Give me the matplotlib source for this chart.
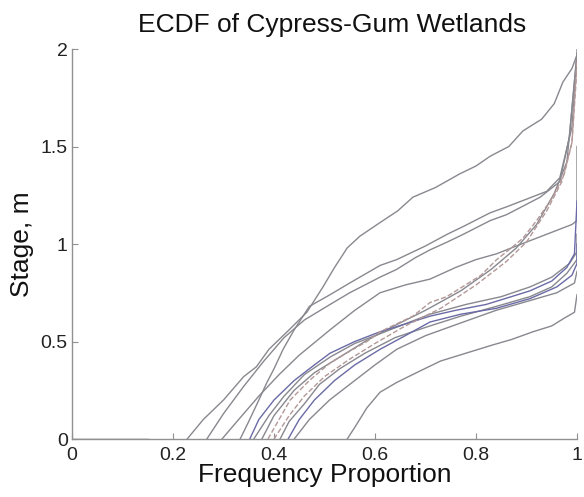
import matplotlib
matplotlib.use('Agg')
import matplotlib.pyplot as plt

# ECDF curves: x = frequency proportion, y = stage (m)
flat_x = [0.0, 0.15]
flat_y = [0.0, 0.0]

t_x = [0.228, 0.26, 0.30, 0.34, 0.365, 0.39, 0.43, 0.465, 0.497, 0.52, 0.545, 0.57, 0.61, 0.645, 0.675, 0.72, 0.768, 0.80, 0.828, 0.865, 0.893, 0.93, 0.955, 0.972, 0.99, 1.0, 1.0]
t_y = [0.0, 0.1, 0.2, 0.32, 0.37, 0.46, 0.56, 0.65, 0.78, 0.88, 0.98, 1.04, 1.11, 1.17, 1.24, 1.29, 1.36, 1.40, 1.45, 1.50, 1.58, 1.64, 1.72, 1.83, 1.90, 1.97, 2.0]

u1_x = [0.267, 0.30, 0.34, 0.38, 0.42, 0.46, 0.511, 0.55, 0.61, 0.643, 0.68, 0.709, 0.743, 0.775, 0.828, 0.86, 0.89, 0.927, 0.966, 0.985, 1.0]
u1_y = [0.0, 0.13, 0.27, 0.40, 0.52, 0.61, 0.69, 0.75, 0.83, 0.87, 0.93, 0.97, 1.01, 1.05, 1.12, 1.15, 1.19, 1.24, 1.32, 1.55, 1.98]

u2_x = [0.297, 0.33, 0.37, 0.41, 0.45, 0.511, 0.56, 0.61, 0.66, 0.709, 0.76, 0.80, 0.841, 0.88, 0.92, 0.95, 0.97, 0.99, 1.0, 1.0]
u2_y = [0.0, 0.10, 0.22, 0.33, 0.43, 0.56, 0.66, 0.75, 0.79, 0.82, 0.88, 0.92, 0.95, 0.99, 1.03, 1.06, 1.08, 1.10, 1.12, 1.5]

u3_x = [0.333, 0.35, 0.37, 0.386, 0.40, 0.418, 0.44, 0.47, 0.511, 0.55, 0.61, 0.643, 0.70, 0.743, 0.775, 0.828, 0.86, 0.90, 0.94, 0.966, 0.99, 1.0]
u3_y = [0.0, 0.09, 0.20, 0.29, 0.36, 0.46, 0.56, 0.68, 0.74, 0.80, 0.89, 0.92, 0.99, 1.05, 1.09, 1.16, 1.19, 1.23, 1.27, 1.34, 1.6, 1.96]

s_x = [0.376, 0.40, 0.44, 0.48, 0.53, 0.58, 0.63, 0.70, 0.77, 0.83, 0.88, 0.92, 0.955, 0.98, 1.0]
s_y = [0.0, 0.12, 0.25, 0.34, 0.42, 0.50, 0.57, 0.66, 0.76, 0.87, 0.98, 1.10, 1.26, 1.42, 1.97]

d1_x = [0.388, 0.41, 0.432, 0.47, 0.511, 0.55, 0.584, 0.61, 0.675, 0.709, 0.742, 0.81, 0.841, 0.87, 0.893, 0.92, 0.952, 0.975, 0.99, 1.0]
d1_y = [0.0, 0.10, 0.20, 0.30, 0.39, 0.45, 0.50, 0.55, 0.63, 0.70, 0.73, 0.84, 0.92, 0.98, 1.03, 1.12, 1.24, 1.36, 1.52, 1.95]

d2_x = [0.40, 0.43, 0.46, 0.50, 0.55, 0.60, 0.66, 0.73, 0.80, 0.86, 0.90, 0.94, 0.97, 0.99, 1.0]
d2_y = [0.0, 0.12, 0.22, 0.32, 0.41, 0.49, 0.58, 0.67, 0.79, 0.91, 1.01, 1.17, 1.32, 1.52, 1.9]

l1_x = [0.352, 0.37, 0.40, 0.44, 0.48, 0.511, 0.56, 0.61, 0.66, 0.709, 0.76, 0.82, 0.87, 0.907, 0.95, 0.98, 0.995, 1.0]
l1_y = [0.0, 0.10, 0.20, 0.30, 0.38, 0.44, 0.50, 0.55, 0.59, 0.63, 0.66, 0.69, 0.73, 0.76, 0.81, 0.88, 0.95, 1.22]

l2_x = [0.412, 0.43, 0.46, 0.49, 0.53, 0.58, 0.64, 0.709, 0.77, 0.84, 0.907, 0.95, 0.98, 1.0, 1.0]
l2_y = [0.0, 0.09, 0.18, 0.28, 0.36, 0.44, 0.52, 0.58, 0.63, 0.68, 0.73, 0.78, 0.85, 0.92, 1.05]

l3_x = [0.428, 0.45, 0.48, 0.52, 0.56, 0.61, 0.66, 0.709, 0.77, 0.84, 0.907, 0.96, 0.99, 1.0, 1.0]
l3_y = [0.0, 0.10, 0.20, 0.30, 0.38, 0.46, 0.53, 0.60, 0.64, 0.67, 0.72, 0.78, 0.84, 0.90, 1.0]

l4_x = [0.36, 0.39, 0.42, 0.46, 0.511, 0.56, 0.62, 0.709, 0.78, 0.85, 0.907, 0.95, 0.985, 1.0]
l4_y = [0.0, 0.12, 0.22, 0.33, 0.42, 0.49, 0.55, 0.64, 0.69, 0.73, 0.78, 0.83, 0.90, 0.96]

l5_x = [0.44, 0.47, 0.51, 0.56, 0.60, 0.643, 0.70, 0.775, 0.84, 0.907, 0.96, 0.995, 1.0]
l5_y = [0.0, 0.10, 0.20, 0.30, 0.38, 0.46, 0.53, 0.60, 0.66, 0.71, 0.75, 0.80, 0.86]

b_x = [0.545, 0.56, 0.584, 0.61, 0.643, 0.69, 0.73, 0.78, 0.83, 0.87, 0.913, 0.95, 0.975, 0.995, 1.0]
b_y = [0.0, 0.06, 0.16, 0.24, 0.29, 0.35, 0.40, 0.44, 0.48, 0.51, 0.55, 0.58, 0.62, 0.65, 0.74]

gray = '#88888f'
blue = '#6a6aa6'
pink = '#b49898'

curves = [
    (flat_x, flat_y, '#505070', '-'),
    (t_x, t_y, gray, '-'),
    (u1_x, u1_y, gray, '-'),
    (u2_x, u2_y, gray, '-'),
    (u3_x, u3_y, gray, '-'),
    (l5_x, l5_y, gray, '-'),
    (b_x, b_y, gray, '-'),
    (l2_x, l2_y, gray, '-'),
    (l4_x, l4_y, gray, '-'),
    (s_x, s_y, gray, '-'),
    (l1_x, l1_y, blue, '-'),
    (l3_x, l3_y, blue, '-'),
    (d1_x, d1_y, pink, '--'),
    (d2_x, d2_y, pink, '--'),
]

x_ticks = [0, 0.2, 0.4, 0.6, 0.8, 1]
x_tick_labels = ['0', '0.2', '0.4', '0.6', '0.8', '1']
y_ticks = [0, 0.5, 1, 1.5, 2]
y_tick_labels = ['0', '0.5', '1', '1.5', '2']

plt.rcParams['font.family'] = ['Liberation Sans', 'DejaVu Sans']

fig = plt.figure(figsize=(5.84, 4.97), dpi=100)
ax = fig.add_axes([0.1233, 0.1167, 0.8647, 0.7847])

for cx, cy, col, ls in curves:
    ax.plot(cx, cy, color=col, linestyle=ls, linewidth=1.0)

ax.set_xlim(0, 1)
ax.set_ylim(0, 2)
ax.set_xticks(x_ticks)
ax.set_xticklabels(x_tick_labels)
ax.set_yticks(y_ticks)
ax.set_yticklabels(y_tick_labels)

for side in ['top', 'right']:
    ax.spines[side].set_visible(False)
for side in ['left', 'bottom']:
    ax.spines[side].set_color('#909090')
    ax.spines[side].set_linewidth(1.0)

ax.tick_params(direction='in', length=4, color='#909090', labelsize=14, labelcolor='#222222')
ax.tick_params(axis='x', pad=6)
ax.tick_params(axis='y', pad=3)

ax.set_title('ECDF of Cypress-Gum Wetlands', fontsize=19, pad=12, color='#111111', x=0.516)
ax.set_xlabel('Frequency Proportion', fontsize=19, labelpad=-1, color='#111111')
ax.set_ylabel('Stage, m', fontsize=19, labelpad=5, color='#111111')

plt.savefig('out.png', dpi=100)
